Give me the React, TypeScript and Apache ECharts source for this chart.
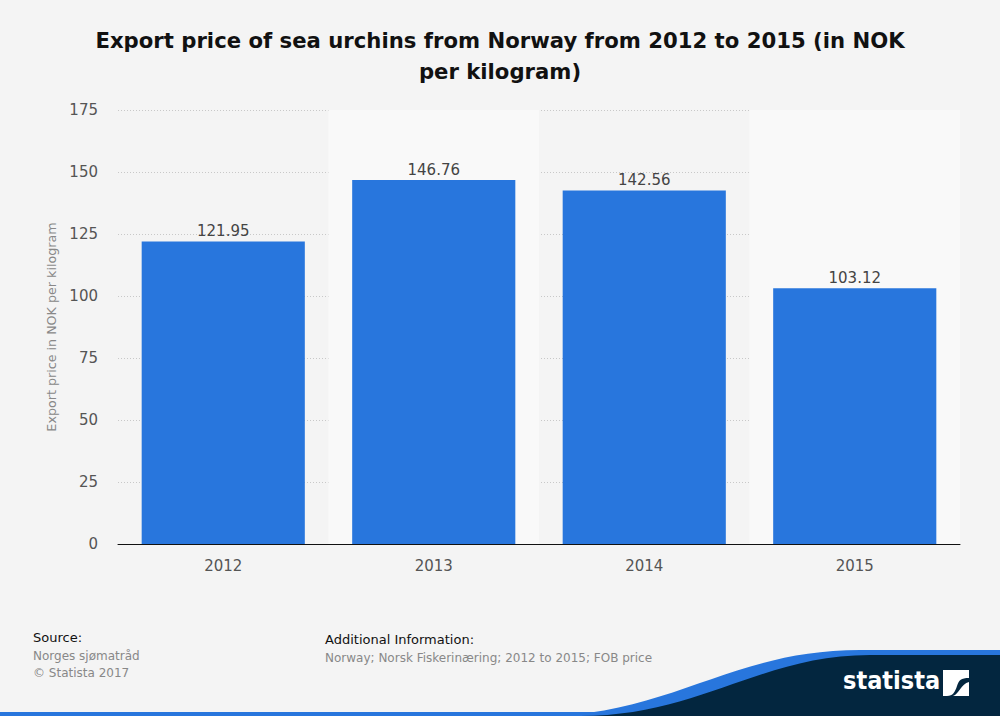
import React, { useEffect, useRef } from "react";
import * as echarts from "echarts";

const categories = ["2012", "2013", "2014", "2015"];
const values = [121.95, 146.76, 142.56, 103.12];
const yTicks = [0, 25, 50, 75, 100, 125, 150, 175];

const titleText = "Export price of sea urchins from Norway from 2012 to 2015 (in NOK\nper kilogram)";
const yAxisName = "Export price in NOK per kilogram";
const sourceLines = ["Norges sjømatråd", "© Statista 2017"];
const additionalInfo = "Norway; Norsk Fiskerinæring; 2012 to 2015; FOB price";

echarts.graphic.registerShape(
  "waveBlue",
  echarts.graphic.extendPath("M 0 66 C 130 66 190 0 320 0 L 460 0 L 460 66 Z", {})
);
echarts.graphic.registerShape(
  "waveNavy",
  echarts.graphic.extendPath("M 40 66 C 160 66 220 5 330 5 L 460 5 L 460 66 Z", {})
);
echarts.graphic.registerShape(
  "logoIcon",
  echarts.graphic.extendPath(
    "M 0 0 L 26 0 L 26 8 C 18 8 16 10 14 16 C 12 22 10 26 4 26 L 0 26 Z M 26 12 L 26 26 L 10 26 C 16 24 18 14 26 12 Z",
    {}
  )
);

export default function App() {
  const ref = useRef<HTMLDivElement>(null);
  useEffect(() => {
    const chart = echarts.init(ref.current!, null, { renderer: "svg" });
    const font = "DejaVu Sans";
    chart.setOption({
      animation: false,
      backgroundColor: "#f4f4f4",
      textStyle: { fontFamily: font },
      title: {
        text: titleText,
        left: "center",
        top: 20,
        textStyle: { fontFamily: font, fontSize: 21.2, fontWeight: "bold", color: "#111", lineHeight: 31 },
      },
      grid: { left: 118, right: 40, top: 110, bottom: 172 },
      xAxis: {
        type: "category",
        data: categories,
        axisLine: { show: true, lineStyle: { color: "#111", width: 1 } },
        axisTick: { show: false },
        axisLabel: { color: "#555", fontSize: 15, margin: 14, fontFamily: font },
        splitArea: { show: true, areaStyle: { color: ["rgba(0,0,0,0)", "#f9f9f9"] } },
      },
      yAxis: {
        type: "value",
        min: yTicks[0],
        max: yTicks[yTicks.length - 1],
        interval: 25,
        name: yAxisName,
        nameLocation: "middle",
        nameGap: 57,
        nameTextStyle: { color: "#888", fontSize: 12.7, fontFamily: font },
        axisLine: { show: false },
        axisTick: { show: false },
        axisLabel: { color: "#555", fontSize: 15, margin: 20, fontFamily: font },
        splitLine: { lineStyle: { color: "#c8c8c8", type: [1, 2], width: 1 } },
      },
      series: [
        {
          type: "bar",
          data: values,
          barCategoryGap: "22.5%",
          itemStyle: { color: "#2876dd" },
          label: {
            show: true,
            position: "top",
            distance: 3,
            color: "#444",
            fontSize: 15,
            fontFamily: font,
            formatter: (p: any) => p.value.toFixed(2),
          },
        },
      ],
      graphic: [
        { type: "text", left: 33, top: 631, style: { text: "Source:", fill: "#111", fontSize: 13, fontFamily: font } },
        { type: "text", left: 33, top: 648, style: { text: sourceLines.join("\n"), fill: "#888", fontSize: 12, lineHeight: 16.5, fontFamily: font } },
        { type: "text", left: 325, top: 633, style: { text: "Additional Information:", fill: "#111", fontSize: 13, fontFamily: font } },
        { type: "text", left: 325, top: 652, style: { text: additionalInfo, fill: "#888", fontSize: 12, fontFamily: font } },
        { type: "rect", shape: { x: 0, y: 712, width: 1000, height: 4 }, style: { fill: "#2876dd" } },
        { type: "waveBlue", x: 540, y: 650, style: { fill: "#2876dd" } },
        { type: "waveNavy", x: 540, y: 650, style: { fill: "#03263f" } },
        { type: "text", x: 843, y: 668, style: { text: "statista", fill: "#fff", fontSize: 25, fontWeight: "bold", fontFamily: "DejaVu Sans Condensed" } },
        { type: "logoIcon", x: 943, y: 670, style: { fill: "#fff" } },
      ],
    });
    return () => chart.dispose();
  }, []);
  return <div ref={ref} style={{ position: "fixed", left: 0, top: 0, width: 1000, height: 716 }} />;
}
